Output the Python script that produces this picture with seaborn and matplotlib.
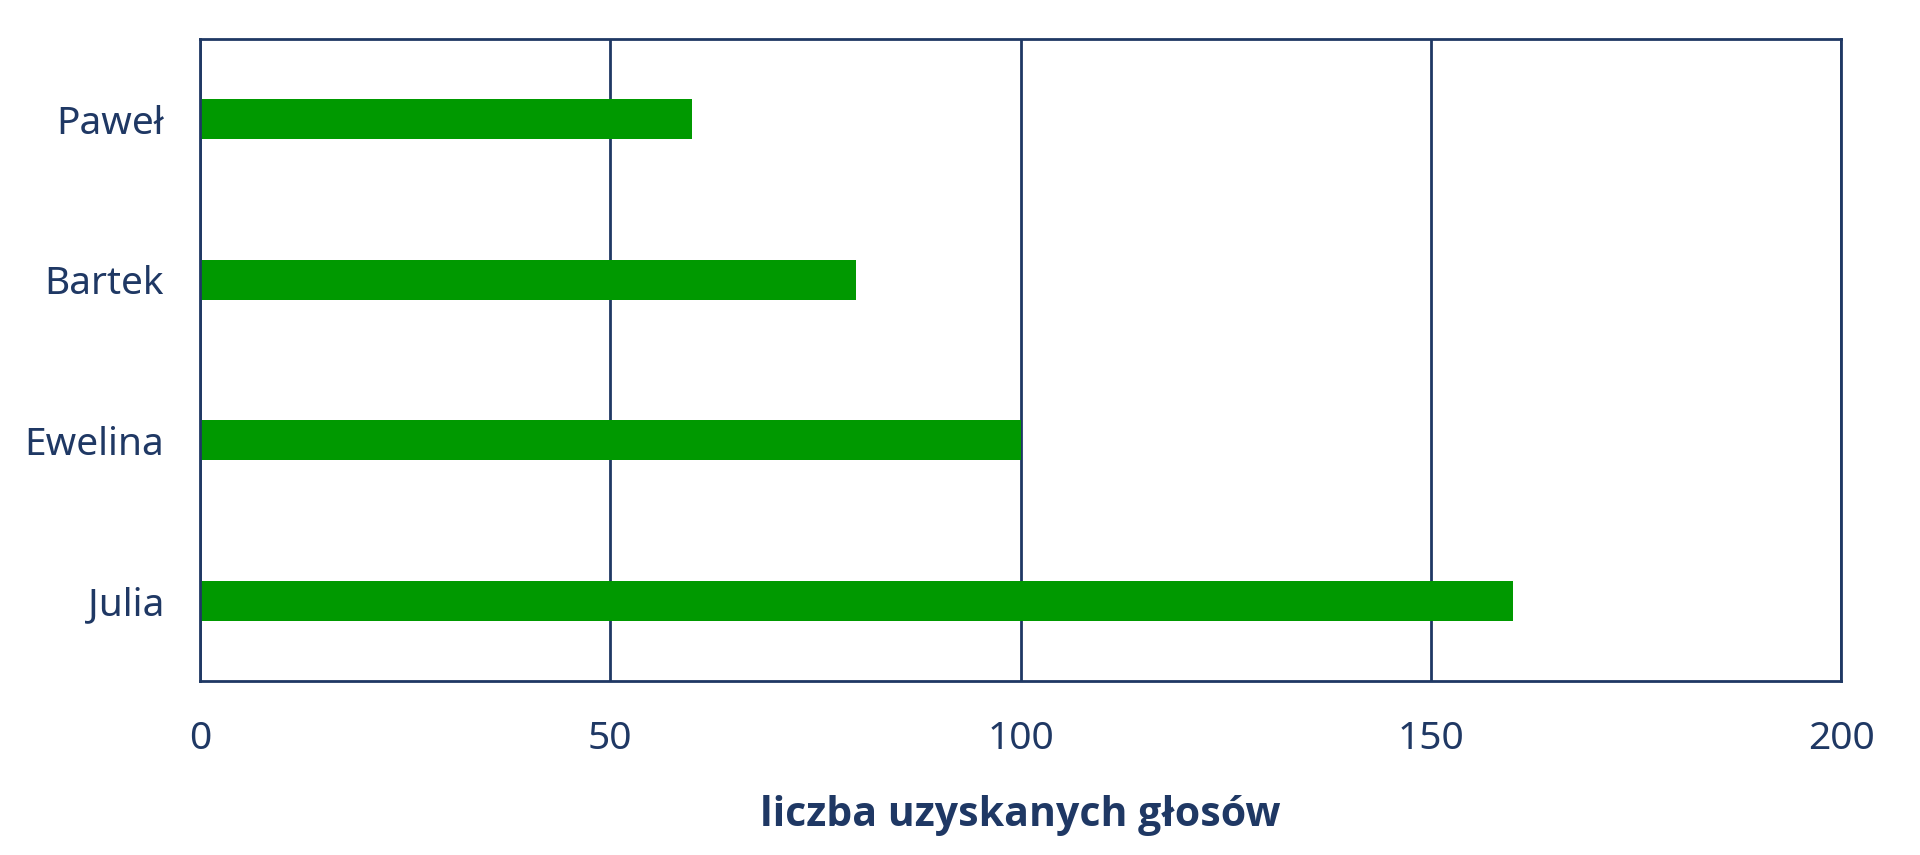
import matplotlib
matplotlib.use("Agg")
import matplotlib.pyplot as plt
import seaborn as sns
import pandas as pd

# dane z wykresu
imiona = ["Paweł", "Bartek", "Ewelina", "Julia"]
glosy = [60, 80, 100, 160]
ticki_x = [0, 50, 100, 150, 200]

navy = "#1f3864"
green = "#009900"

df = pd.DataFrame({"imie": imiona, "glosy": glosy})

sns.set_style("white")
plt.rcParams["font.family"] = ["Noto Sans", "DejaVu Sans"]

fig = plt.figure(figsize=(19.2, 8.55), dpi=100)
ax = fig.add_axes([200 / 1920, 1 - 681 / 855, 1641 / 1920, 642 / 855])

sns.barplot(data=df, x="glosy", y="imie", order=imiona, color=green,
            width=0.25, saturation=1, linewidth=0, ax=ax, zorder=3)

ax.set_xlim(0, 200)
ax.set_xticks(ticki_x)
ax.grid(axis="x", color=navy, linewidth=2, zorder=0)
ax.grid(axis="y", visible=False)
for s in ax.spines.values():
    s.set_color(navy)
    s.set_linewidth(2)
    s.set_zorder(4)

ax.tick_params(axis="x", length=0, pad=28, labelsize=28, labelcolor=navy)
ax.tick_params(axis="y", length=0, pad=26, labelsize=28, labelcolor=navy)
ax.set_ylabel("")
ax.set_xlabel("liczba uzyskanych głosów", fontsize=29.5, fontweight="bold",
              family=["Open Sans", "DejaVu Sans"], color=navy, labelpad=27)

fig.savefig("out.png", dpi=100)
